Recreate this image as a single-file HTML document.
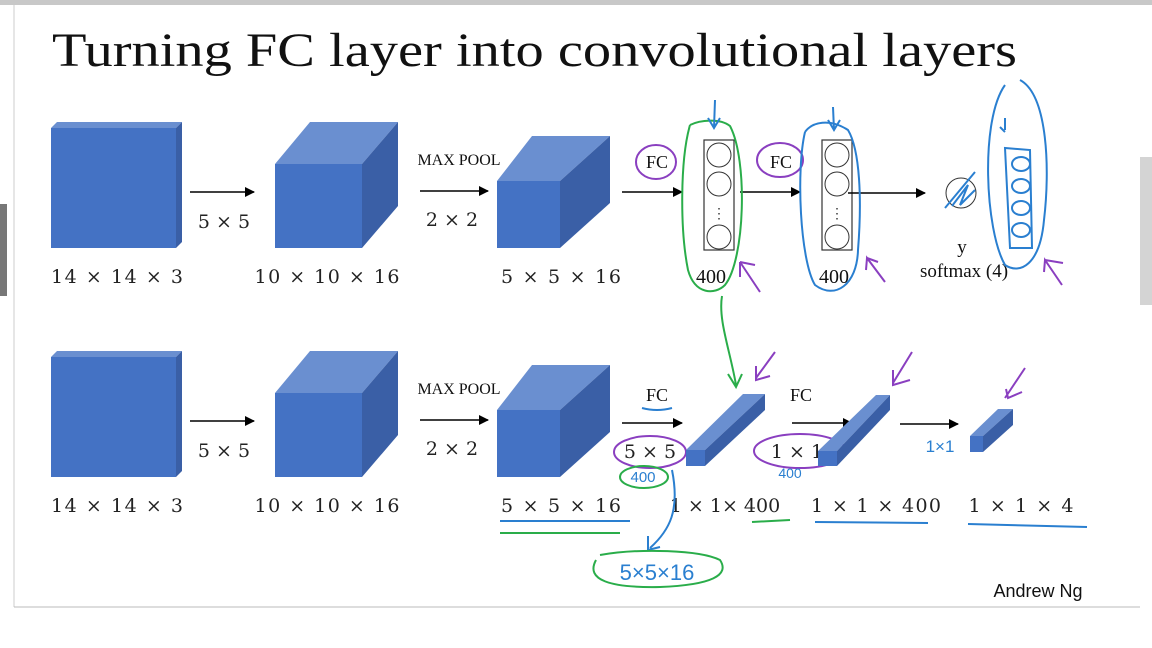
<!DOCTYPE html>
<html><head><meta charset="utf-8"><style>
body{margin:0;background:#fff;}
svg{display:block}
.s{font-family:"Liberation Serif",serif;fill:#111}
.l{font-family:"DejaVu Serif","Liberation Serif",serif;fill:#222;font-size:19px}
.f{fill:#4472c4}.t{fill:#6a8fd0}.d{fill:#3a5fa6}
.g{fill:none;stroke:#2aad4a;stroke-width:2}
.b{fill:none;stroke:#2a7fd0;stroke-width:2}
.p{fill:none;stroke:#8a3fc0;stroke-width:2}
</style></head><body>
<svg width="1152" height="648" viewBox="0 0 1152 648" xmlns="http://www.w3.org/2000/svg">
<defs><marker id="a" markerWidth="10" markerHeight="10" refX="9" refY="5" orient="auto" markerUnits="userSpaceOnUse"><path d="M0,0L10,5L0,10z" fill="#000"/></marker></defs>
<rect x="0" y="0" width="1152" height="5" fill="#c8c8c8"/>
<line x1="14" y1="5" x2="14" y2="607" stroke="#ccc"/>
<line x1="14" y1="607" x2="1140" y2="607" stroke="#bbb"/>
<rect x="0" y="204" width="7" height="92" fill="#777"/>
<rect x="1140" y="157" width="12" height="148" fill="#d4d4d4"/>
<text class="s" x="52" y="66" font-size="48" textLength="965" lengthAdjust="spacingAndGlyphs">Turning FC layer into convolutional layers</text>

<g id="row">
<polygon class="t" points="51,128 57,122 182,122 176,128"/>
<polygon class="d" points="176,128 182,122 182,242 176,248"/>
<rect class="f" x="51" y="128" width="125" height="120"/>
<polygon class="t" points="275,164 310,122 398,122 362,164"/>
<polygon class="d" points="362,164 398,122 398,206 362,248"/>
<rect class="f" x="275" y="164" width="87" height="84"/>
<polygon class="t" points="497,181 532,136 610,136 560,181"/>
<polygon class="d" points="560,181 610,136 610,203 560,248"/>
<rect class="f" x="497" y="181" width="63" height="67"/>
<line x1="190" y1="192" x2="254" y2="192" stroke="#000" stroke-width="1.5" marker-end="url(#a)"/>
<line x1="420" y1="191" x2="488" y2="191" stroke="#000" stroke-width="1.5" marker-end="url(#a)"/>
<text class="l" x="224" y="228" text-anchor="middle">5 × 5</text>
<text class="s" x="459" y="165" font-size="16" text-anchor="middle">MAX POOL</text>
<text class="l" x="452" y="226" text-anchor="middle">2 × 2</text>
<text class="l" x="117" y="283" text-anchor="middle" textLength="132">14 × 14 × 3</text>
<text class="l" x="327" y="283" text-anchor="middle" textLength="145">10 × 10 × 16</text>
</g>
<use href="#row" y="229"/>
<text class="l" x="561" y="283" text-anchor="middle" textLength="120">5 × 5 × 16</text>
<text class="l" x="561" y="512" text-anchor="middle" textLength="120">5 × 5 × 16</text>

<!-- top right -->
<line x1="622" y1="192" x2="682" y2="192" stroke="#000" stroke-width="1.5" marker-end="url(#a)"/>
<text class="s" x="657" y="168" font-size="18" text-anchor="middle">FC</text>
<ellipse class="p" cx="656" cy="162" rx="20" ry="17"/>
<rect x="704" y="140" width="30" height="110" fill="none" stroke="#333" stroke-width="1.2"/>
<circle cx="719" cy="155" r="12" fill="none" stroke="#333"/><circle cx="719" cy="184" r="12" fill="none" stroke="#333"/><circle cx="719" cy="237" r="12" fill="none" stroke="#333"/>
<text x="719" y="218" font-size="14" text-anchor="middle" fill="#333">⋮</text>
<line x1="740" y1="192" x2="800" y2="192" stroke="#000" stroke-width="1.5" marker-end="url(#a)"/>
<text class="s" x="781" y="168" font-size="18" text-anchor="middle">FC</text>
<ellipse class="p" cx="780" cy="160" rx="23" ry="17"/>
<rect x="822" y="140" width="30" height="110" fill="none" stroke="#333" stroke-width="1.2"/>
<circle cx="837" cy="155" r="12" fill="none" stroke="#333"/><circle cx="837" cy="184" r="12" fill="none" stroke="#333"/><circle cx="837" cy="237" r="12" fill="none" stroke="#333"/>
<text x="837" y="218" font-size="14" text-anchor="middle" fill="#333">⋮</text>
<line x1="848" y1="193" x2="925" y2="193" stroke="#000" stroke-width="1.5" marker-end="url(#a)"/>
<circle cx="961" cy="193" r="15" fill="none" stroke="#333"/>
<path class="b" d="M945,208 L975,172 M952,206 L968,185 L960,205 L975,190"/>
<text class="s" x="962" y="253" font-size="19" text-anchor="middle">y</text>
<text class="s" x="964" y="277" font-size="19" text-anchor="middle">softmax (4)</text>
<text class="s" x="711" y="283" font-size="20" text-anchor="middle">400</text>
<text class="s" x="834" y="283" font-size="20" text-anchor="middle">400</text>
<path class="g" d="M690,125 C680,160 680,230 688,270 C695,295 715,295 725,285 C745,260 748,160 730,126 C720,118 700,120 690,125"/>
<path class="b" d="M715,100 L714,128 M708,118 L714,128 L720,118"/>
<path class="b" d="M805,132 C796,170 800,260 815,285 C835,300 857,285 858,250 C862,200 860,150 848,130 C830,118 812,122 805,132"/>
<path class="b" d="M833,107 L834,130 M828,120 L834,130 L840,120"/>
<path class="b" d="M1005,85 C980,120 985,230 1005,265 C1020,275 1040,265 1044,220 C1050,170 1048,95 1020,80"/>
<path class="b" d="M1005,148 L1010,248 L1032,248 L1030,150 Z"/>
<ellipse class="b" cx="1021" cy="164" rx="9" ry="7"/><ellipse class="b" cx="1021" cy="186" rx="9" ry="7"/><ellipse class="b" cx="1021" cy="208" rx="9" ry="7"/><ellipse class="b" cx="1021" cy="230" rx="9" ry="7"/>
<path class="b" d="M1005,118 L1005,130 M1000,127 L1005,132"/>
<path class="p" d="M760,292 L740,262 M740,262 L740,277 M740,262 L755,265"/>
<path class="p" d="M885,282 L867,258 L866,270 M867,258 L878,262"/>
<path class="p" d="M1062,285 L1045,260 L1044,272 M1045,260 L1063,263"/>
<path class="g" d="M722,296 C718,320 730,350 736,385 M728,374 L736,387 L742,374"/>

<!-- bottom right -->
<line x1="622" y1="423" x2="682" y2="423" stroke="#000" stroke-width="1.5" marker-end="url(#a)"/>
<text class="s" x="657" y="401" font-size="18" text-anchor="middle">FC</text>
<path class="b" d="M642,408 Q657,412 672,408"/>
<text class="l" x="650" y="458" text-anchor="middle">5 × 5</text>
<ellipse class="p" cx="650" cy="452" rx="36" ry="16"/>
<polygon class="t" points="686,450 743,394 765,394 705,450"/>
<polygon class="d" points="705,450 765,394 765,410 705,466"/>
<rect class="f" x="686" y="450" width="19" height="16"/>
<line x1="792" y1="423" x2="852" y2="423" stroke="#000" stroke-width="1.5" marker-end="url(#a)"/>
<text class="s" x="801" y="401" font-size="18" text-anchor="middle">FC</text>
<text class="l" x="797" y="458" text-anchor="middle">1 × 1</text>
<ellipse class="p" cx="800" cy="451" rx="46" ry="17"/>
<polygon class="t" points="818,451 876,395 890,395 837,451"/>
<polygon class="d" points="837,451 890,395 890,410 837,466"/>
<rect class="f" x="818" y="451" width="19" height="15"/>
<line x1="900" y1="424" x2="958" y2="424" stroke="#000" stroke-width="1.5" marker-end="url(#a)"/>
<text x="940" y="452" font-family="Liberation Sans,sans-serif" font-size="17" fill="#2a7fd0" text-anchor="middle">1×1</text>
<polygon class="t" points="970,436 998,409 1013,409 983,436"/>
<polygon class="d" points="983,436 1013,409 1013,425 983,452"/>
<rect class="f" x="970" y="436" width="13" height="16"/>
<path class="p" d="M775,352 L756,378 M756,366 L756,380 L770,376"/>
<path class="p" d="M912,352 L893,383 M893,370 L893,385 L910,380"/>
<path class="p" d="M1025,368 L1005,398 M1006,389 L1008,398 L1022,392"/>
<text x="643" y="482" font-family="Liberation Sans,sans-serif" font-size="15" fill="#2a7fd0" text-anchor="middle">400</text>
<ellipse class="g" cx="644" cy="477" rx="24" ry="11"/>
<text x="790" y="478" font-family="Liberation Sans,sans-serif" font-size="14" fill="#2a7fd0" text-anchor="middle">400</text>
<text class="l" x="725" y="512" text-anchor="middle">1 × 1× 400</text>
<text class="l" x="876" y="512" text-anchor="middle" textLength="130">1 × 1 × 400</text>
<text class="l" x="1021" y="512" text-anchor="middle" textLength="105">1 × 1 × 4</text>
<path class="b" d="M500,521 L630,521"/>
<path class="g" d="M500,533 L620,533"/>
<path class="g" d="M752,522 L790,520"/>
<path class="b" d="M815,522 L928,523"/>
<path class="b" d="M968,524 L1087,527"/>
<path class="b" d="M672,470 C680,510 670,530 650,548 M648,536 L648,550 L660,547"/>
<text x="657" y="580" font-family="Liberation Sans,sans-serif" font-size="22" fill="#2a7fd0" text-anchor="middle">5×5×16</text>
<path class="g" d="M600,555 C640,548 700,550 720,560 C730,575 712,585 660,587 C610,588 585,580 596,560"/>
<text x="1038" y="597" font-family="Liberation Sans,sans-serif" font-size="18" fill="#111" text-anchor="middle">Andrew Ng</text>
</svg>
</body></html>
